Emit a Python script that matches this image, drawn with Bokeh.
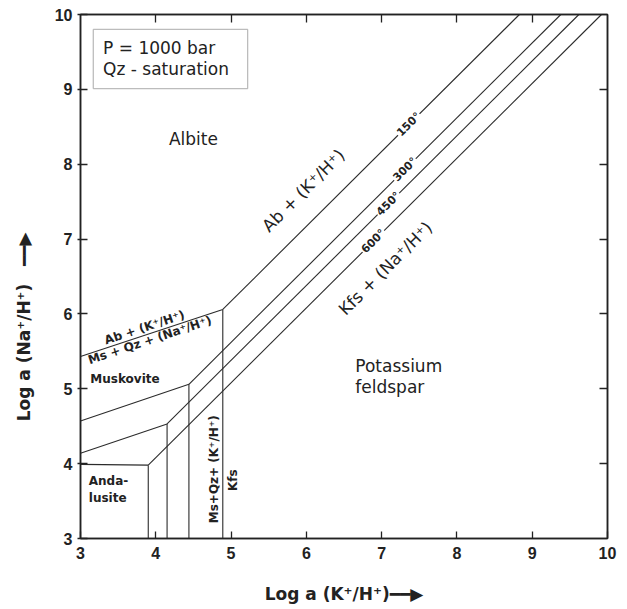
import math
from bokeh.plotting import figure
from bokeh.models import Label, BoxAnnotation, LinearAxis, FixedTicker, Range1d
from bokeh.embed import file_html
from bokeh.resources import INLINE

# ---- data ----
temps = ["150°", "300°", "450°", "600°"]
kink_x = [4.89, 4.44, 4.15, 3.90]      # triple point log a(K+/H+)
kink_y = [6.06, 5.06, 4.53, 3.98]      # triple point log a(Na+/H+)
left_y = [5.43, 4.57, 4.14, 3.99]      # Ab / Ms (And) boundary at log a(K+/H+) = 3
top_x = [8.83, 9.38, 9.62, 9.92]       # Ab / Kfs boundary at log a(Na+/H+) = 10
label_x = [7.36, 7.31, 7.09, 6.89]     # where the temperature labels sit on each line
x_ticks = [3, 4, 5, 6, 7, 8, 9, 10]
y_ticks = [3, 4, 5, 6, 7, 8, 9, 10]
XMIN, XMAX, YMIN, YMAX = 3, 10, 3, 10

BODY = "DejaVu Sans"
LINE = "#2b2b2b"
ARROW = "\u2501\u2501\u25B6"

p = figure(width=627, height=609, x_range=Range1d(XMIN, XMAX), y_range=Range1d(YMIN, YMAX),
           output_backend="svg", toolbar_location=None,
           min_border_left=80, min_border_right=20, min_border_top=14, min_border_bottom=71)
p.grid.visible = False
p.outline_line_color = "#222222"
p.outline_line_width = 1.5
p.background_fill_color = "white"
p.border_fill_color = "white"

def style_axis(ax, ticks, show_labels, tin, tout):
    ax.ticker = FixedTicker(ticks=ticks)
    ax.axis_line_color = "#222222"
    ax.axis_line_width = 1.5
    ax.major_tick_line_color = "#222222"
    ax.major_tick_line_width = 1.3
    ax.major_tick_in = tin
    ax.major_tick_out = tout
    ax.minor_tick_line_color = None
    if show_labels:
        ax.major_label_text_font = "Liberation Sans"
        ax.major_label_text_font_style = "bold"
        ax.major_label_text_font_size = "16px"
        ax.major_label_text_color = "#222222"
    else:
        ax.major_label_overrides = {t: "" for t in ticks}
        ax.major_label_standoff = 0

style_axis(p.xaxis[0], x_ticks, True, 7, 0)
p.xaxis[0].major_label_standoff = 8
style_axis(p.yaxis[0], y_ticks, True, 7, 3)
p.yaxis[0].major_label_standoff = 5

for ax, txt, sd in [(p.xaxis[0], "Log a (K⁺/H⁺)" + ARROW, 22),
                    (p.yaxis[0], "Log a (Na⁺/H⁺)\u00a0\u00a0\u00a0" + ARROW + "\u00a0" * 17, 18)]:
    ax.axis_label = txt
    ax.axis_label_text_font = BODY
    ax.axis_label_text_font_style = "bold"
    ax.axis_label_text_font_size = "17px"
    ax.axis_label_text_color = "#222222"
    ax.axis_label_standoff = sd

top_ax = LinearAxis()
style_axis(top_ax, x_ticks[1:-1], False, 8, 0)
p.add_layout(top_ax, "above")
right_ax = LinearAxis()
style_axis(right_ax, y_ticks[1:-1], False, 8, 0)
p.add_layout(right_ax, "right")

# ---- boundary lines built from the data ----
xs, ys = [], []
for i in range(len(temps)):
    off = kink_y[i] - kink_x[i]
    # Ab / Ms (or Ab / And) boundary
    xs.append([XMIN, kink_x[i]]); ys.append([left_y[i], kink_y[i]])
    # Ab / Kfs boundary (slope 1)
    xs.append([kink_x[i], top_x[i]]); ys.append([kink_y[i], top_x[i] + off])
    # Ms / Kfs (or And / Kfs) boundary
    xs.append([kink_x[i], kink_x[i]]); ys.append([kink_y[i], YMIN])
p.multi_line(xs, ys, line_color=LINE, line_width=1.1)

# temperature labels breaking the lines
for i, t in enumerate(temps):
    off = kink_y[i] - kink_x[i]
    p.add_layout(Label(x=label_x[i], y=label_x[i] + off, text=t, angle=math.pi / 4,
                       text_align="center", text_baseline="middle",
                       text_font=BODY, text_font_style="bold", text_font_size="11px",
                       text_color="#222222", background_fill_color="white", padding=1))

# ---- box ----
p.add_layout(BoxAnnotation(left=3.17, right=5.22, bottom=9.01, top=9.80,
                           fill_color=None, line_color="#222222", line_width=1.3))

def lab(x, y, text, size="17px", style="normal", angle=0.0, align="left", baseline="middle"):
    p.add_layout(Label(x=x, y=y, text=text, angle=angle, text_align=align, text_baseline=baseline,
                       text_font=BODY, text_font_style=style, text_font_size=size,
                       text_color="#222222"))

lab(3.30, 9.55, "P = 1000 bar")
lab(3.30, 9.27, "Qz - saturation")
lab(4.50, 8.34, "Albite", align="center")
lab(6.65, 5.30, "Potassium")
lab(6.65, 5.03, "feldspar")
lab(5.96, 7.65, "Ab + (K⁺/H⁺)", angle=math.pi / 4, align="center")
lab(7.05, 6.61, "Kfs + (Na⁺/H⁺)", angle=math.pi / 4, align="center")

ang = math.atan((kink_y[0] - left_y[0]) / (kink_x[0] - XMIN))
lab(3.85, 5.82, "Ab + (K⁺/H⁺)", size="12px", style="bold", angle=ang, align="center")
lab(3.92, 5.65, "Ms + Qz + (Na⁺/H⁺)", size="12px", style="bold", angle=ang, align="center")
lab(3.13, 5.13, "Muskovite", size="12px", style="bold")
lab(3.11, 3.765, "Anda-", size="12px", style="bold")
lab(3.11, 3.54, "lusite", size="12px", style="bold")
lab(4.77, 3.925, "Ms+Qz+ (K⁺/H⁺)", size="12px", style="bold", angle=math.pi / 2, align="center")
lab(5.03, 3.78, "Kfs", size="12px", style="bold", angle=math.pi / 2, align="center")

open("out.html", "w").write(file_html(p, INLINE))
